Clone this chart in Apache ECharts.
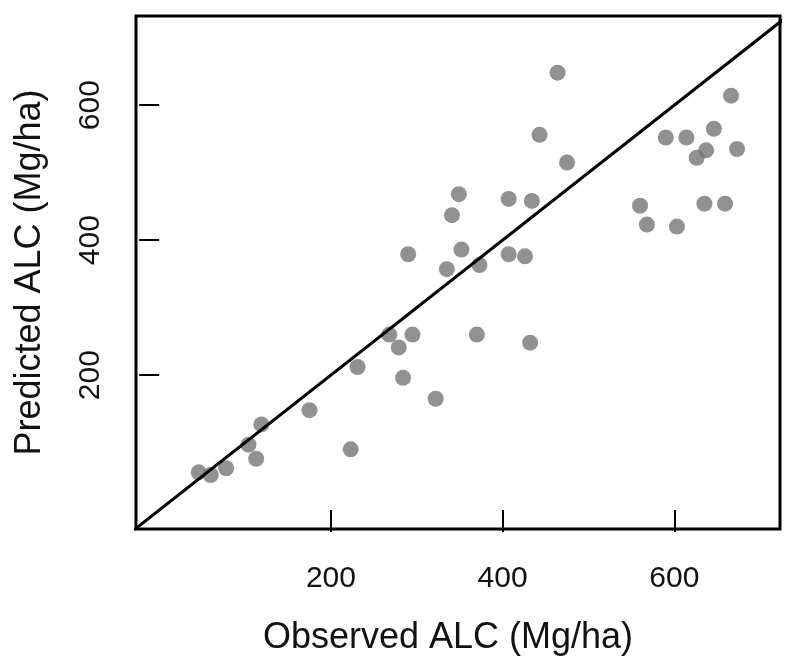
<!DOCTYPE html>
<html>
<head>
<meta charset="utf-8">
<script src="https://cdn.jsdelivr.net/npm/echarts@6/dist/echarts.min.js"></script>
<style>
  html, body { margin: 0; padding: 0; background: #fff; }
  #chart { width: 800px; height: 669px; }
</style>
</head>
<body>
<div id="chart"></div>
<script>
// Observed ALC (Mg/ha)
var observed = [46, 60, 78, 104, 113, 119, 175, 223, 231, 268, 295, 279, 284, 322,
  443, 475, 349, 407, 434, 341, 290, 352, 335, 373, 407, 426, 370, 432,
  464, 666, 590, 614, 646, 637, 626, 673, 560, 568, 603, 635, 659];
// Predicted ALC (Mg/ha)
var predicted = [56, 52, 62, 97, 76, 127, 148, 90, 212, 260, 260, 241, 196, 165,
  556, 515, 468, 461, 458, 437, 379, 386, 357, 363, 379, 376, 260, 248,
  648, 614, 552, 552, 565, 533, 522, 535, 451, 423, 420, 454, 454];
// 1:1 reference line end points
var oneToOne = [-40, 760];
var tickValues = [200, 400, 600];
var xRange = [-27, 723];
var yRange = [-28, 732];
var xTitle = 'Observed ALC (Mg/ha)';
var yTitle = 'Predicted ALC (Mg/ha)';

var points = observed.map(function (v, i) { return [v, predicted[i]]; });
var lineData = oneToOne.map(function (v) { return [v, v]; });

var chart = echarts.init(document.getElementById('chart'), null, { renderer: 'canvas' });
var font = '"Liberation Sans", Arial, Helvetica, sans-serif';
chart.setOption({
  backgroundColor: '#ffffff',
  animation: false,
  grid: {
    left: 136, top: 16, width: 644, height: 513,
    show: true, borderColor: '#000', borderWidth: 3, backgroundColor: 'transparent'
  },
  xAxis: {
    type: 'value', min: xRange[0], max: xRange[1],
    splitLine: { show: false },
    axisLine: { show: false },
    axisTick: { show: true, inside: false, length: 22, customValues: tickValues,
      lineStyle: { color: '#000', width: 2 } },
    axisLabel: { show: true, customValues: tickValues, margin: 35, fontSize: 30,
      color: '#111', fontFamily: font },
    name: xTitle, nameLocation: 'middle', nameGap: 91,
    nameTextStyle: { fontSize: 36, color: '#111', fontFamily: font, padding: [0, 20, 0, 0] }
  },
  yAxis: {
    type: 'value', min: yRange[0], max: yRange[1],
    splitLine: { show: false },
    axisLine: { show: false },
    axisTick: { show: true, inside: false, length: 20, customValues: tickValues,
      lineStyle: { color: '#000', width: 2 } },
    axisLabel: { show: true, customValues: tickValues, margin: 30, fontSize: 30,
      rotate: 90, color: '#111', fontFamily: font },
    name: yTitle, nameLocation: 'middle', nameGap: 88,
    nameTextStyle: { fontSize: 36, color: '#111', fontFamily: font }
  },
  series: [
    {
      type: 'scatter', data: points, symbol: 'circle', symbolSize: 16,
      itemStyle: { color: '#767676' }, z: 2
    },
    {
      type: 'line', data: lineData, clip: true, symbol: 'none',
      lineStyle: { color: '#000', width: 3 }, z: 3
    }
  ]
});
</script>
</body>
</html>
